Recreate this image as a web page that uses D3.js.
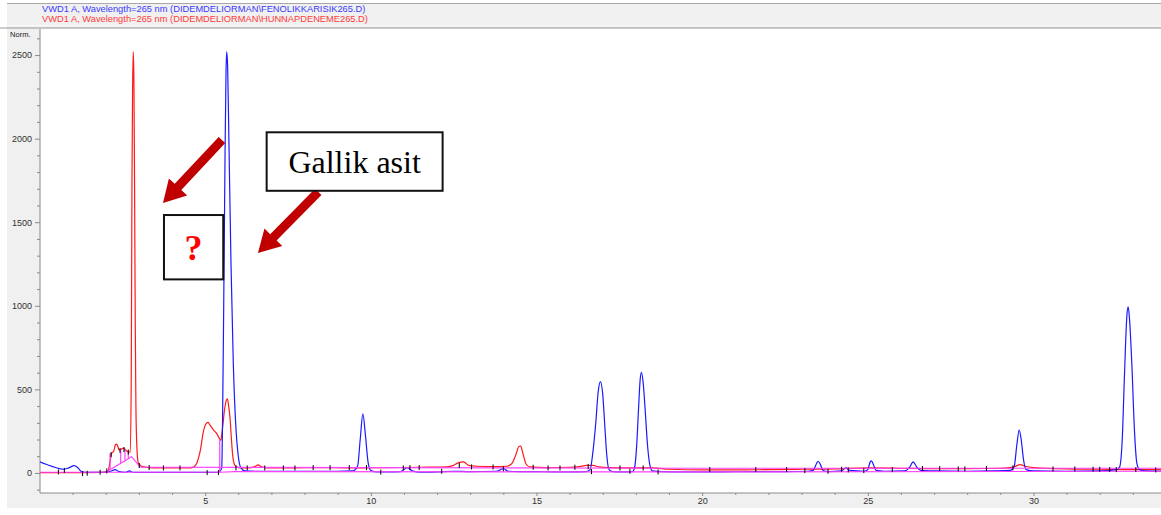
<!DOCTYPE html>
<html>
<head>
<meta charset="utf-8">
<script src="https://cdn.jsdelivr.net/npm/d3@7"></script>
<style>
  html, body { margin: 0; padding: 0; background: #ffffff; }
  svg { display: block; }
</style>
</head>
<body>
<svg id="chart" width="1161" height="515"></svg>
<script>
// HPLC chromatograms, VWD1 A at 265 nm: retention time (min) vs. signal (Norm.)

const headerLines = [
  { text: "VWD1 A, Wavelength=265 nm (DIDEMDELIORMAN\\FENOLIKKARISIK265.D)", color: "#3a3aff" },
  { text: "VWD1 A, Wavelength=265 nm (DIDEMDELIORMAN\\HUNNAPDENEME265.D)", color: "#ff3a3a" }
];

const yAxisTitle = "Norm.";
const yMajorTicks = [0, 500, 1000, 1500, 2000, 2500];
const yMinorTicks = [-100, 100, 200, 300, 400, 600, 700, 800, 900, 1100, 1200, 1300, 1400,
                     1600, 1700, 1800, 1900, 2100, 2200, 2300, 2400, 2600];
const xMajorTicks = [5, 10, 15, 20, 25, 30];
const xMinorTicks = [1, 2, 3, 4, 6, 7, 8, 9, 11, 12, 13, 14, 16, 17, 18, 19, 21, 22, 23, 24,
                     26, 27, 28, 29, 31, 32, 33];

// FENOLIKKARISIK265.D (standard mix), [time, signal]
const blueTrace = [
  [0.0, 68], [0.2, 52], [0.4, 38], [0.6, 26], [0.72, 22], [0.88, 30], [1.05, 44], [1.15, 32],
  [1.27, 8], [1.4, 4], [1.8, 4], [2.0, 4], [2.15, 10], [2.28, 20], [2.4, 8], [2.6, 4],
  [2.72, 12], [2.8, 4], [3.0, 3], [4.0, 3], [5.0, 3], [5.4, 4], [5.5, 30], [5.53, 400],
  [5.56, 1000], [5.6, 1900], [5.63, 2400], [5.65, 2520], [5.68, 2420], [5.72, 1950],
  [5.78, 1250], [5.85, 650], [5.92, 300], [6.0, 100], [6.08, 30], [6.2, 12], [6.5, 10],
  [7.0, 10], [8.0, 10], [9.0, 10], [9.45, 12], [9.6, 40], [9.68, 200], [9.76, 353],
  [9.84, 220], [9.92, 60], [10.0, 15], [10.2, 6], [10.5, 6], [10.9, 8], [11.1, 32],
  [11.25, 12], [11.5, 4], [12.0, 6], [12.5, 10], [13.0, 8], [13.8, 10], [14.0, 25],
  [14.15, 10], [14.5, 8], [15.0, 8], [15.5, 6], [16.0, 6], [16.5, 8], [16.62, 20],
  [16.7, 120], [16.79, 300], [16.86, 480], [16.93, 546], [17.0, 470], [17.06, 290],
  [17.12, 110], [17.19, 20], [17.3, 8], [17.6, 6], [17.9, 8], [17.96, 30], [18.02, 150],
  [18.08, 380], [18.13, 560], [18.17, 602], [18.22, 540], [18.28, 380], [18.35, 170],
  [18.42, 50], [18.5, 12], [18.8, 8], [19.5, 6], [20.5, 6], [21.5, 8], [22.5, 8],
  [23.2, 10], [23.35, 15], [23.45, 55], [23.5, 70], [23.57, 50], [23.65, 15], [23.8, 8],
  [24.2, 12], [24.34, 30], [24.45, 15], [24.9, 10], [25.0, 20], [25.07, 65], [25.11, 72],
  [25.17, 50], [25.25, 15], [25.5, 10], [26.1, 12], [26.25, 30], [26.37, 66], [26.48, 35],
  [26.6, 15], [27.0, 12], [28.0, 10], [28.8, 12], [29.3, 15], [29.42, 40], [29.5, 170],
  [29.57, 257], [29.63, 200], [29.7, 80], [29.78, 20], [30.0, 12], [31.0, 10], [32.0, 12],
  [32.5, 20], [32.6, 35], [32.68, 200], [32.75, 600], [32.82, 940], [32.86, 993],
  [32.9, 920], [32.97, 650], [33.05, 250], [33.12, 60], [33.2, 20], [33.4, 12], [33.85, 10]
];

// HUNNAPDENEME265.D (sample extract), [time, signal]
const redTrace = [
  [0.0, 2], [1.0, 2], [1.9, 3], [2.0, 6], [2.07, 12], [2.13, 70], [2.18, 118], [2.24, 130],
  [2.29, 168], [2.33, 173], [2.37, 155], [2.4, 137], [2.46, 141], [2.53, 148], [2.6, 137],
  [2.68, 127], [2.74, 125], [2.77, 600], [2.79, 1700], [2.81, 2300], [2.83, 2520],
  [2.85, 2350], [2.87, 1700], [2.89, 900], [2.91, 400], [2.94, 150], [2.98, 62], [3.08, 40],
  [3.3, 32], [3.6, 30], [4.0, 30], [4.5, 30], [4.65, 35], [4.75, 60], [4.85, 130],
  [4.95, 250], [5.03, 295], [5.09, 302], [5.15, 285], [5.25, 258], [5.35, 235], [5.42, 210],
  [5.47, 195], [5.52, 260], [5.58, 370], [5.63, 430], [5.67, 443], [5.71, 400], [5.75, 330],
  [5.79, 210], [5.84, 90], [5.9, 45], [6.0, 32], [6.3, 30], [6.5, 38], [6.6, 48], [6.7, 36],
  [6.9, 30], [7.5, 30], [8.5, 32], [9.5, 30], [10.5, 32], [11.5, 34], [12.3, 36], [12.5, 45],
  [12.65, 62], [12.8, 66], [12.95, 45], [13.2, 40], [13.8, 38], [14.1, 40], [14.25, 55],
  [14.38, 110], [14.47, 158], [14.52, 160], [14.6, 110], [14.68, 55], [14.8, 36], [15.3, 32],
  [16.0, 34], [16.3, 38], [16.5, 45], [16.7, 45], [16.9, 36], [17.2, 32], [17.8, 30],
  [18.5, 30], [19.0, 22], [20.0, 18], [21.0, 18], [22.0, 20], [23.0, 22], [24.0, 24],
  [25.0, 30], [26.0, 28], [27.0, 26], [28.0, 26], [29.0, 28], [29.4, 35], [29.6, 50],
  [29.75, 40], [30.0, 32], [31.0, 24], [32.0, 22], [33.0, 20], [33.85, 20]
];

// integration baselines (magenta)
const baselineLow = [[0.0, 4], [5.44, 4], [5.9, 8], [20.0, 6], [33.85, 10]];
const baselineHigh = [[3.0, 34], [10.0, 32], [20.0, 28], [33.85, 28]];
const baselineCluster = [[2.04, 8], [2.78, 97], [3.03, 38]];
// perpendicular drops: [time, from, to]
const baselineDrops = [[2.13, 19, 118], [2.45, 57, 141], [2.58, 73, 144], [2.68, 85, 127], [5.44, 4, 195]];

// integration event markers, [time, signal]
const eventTicks = [
  [0.57, 6], [0.75, 15], [1.3, -4], [1.44, -2], [1.83, 4], [2.03, 12], [2.16, 110], [2.43, 135],
  [2.55, 140], [2.68, 125], [3.01, 45], [3.31, 32], [3.74, 30], [4.24, 30], [5.06, 2], [5.4, 2],
  [5.93, 30], [6.27, 30], [6.8, 30], [7.36, 30], [7.71, 30], [8.26, 32], [8.77, 32], [9.35, 32],
  [9.87, 32], [10.3, 5], [10.98, 30], [11.18, 32], [11.46, 32], [12.14, 10], [12.67, 45],
  [13.04, 36], [13.69, 36], [14.0, 25], [14.9, 34], [15.35, 30], [15.71, 30], [16.16, 34],
  [16.56, 38], [16.66, 8], [17.52, 30], [17.82, 10], [18.22, 30], [18.67, 6], [20.23, 20],
  [21.62, 20], [22.55, 20], [23.1, 14], [23.8, 10], [24.21, 22], [24.41, 18], [24.88, 14],
  [25.74, 20], [26.65, 26], [27.17, 26], [27.73, 24], [27.93, 24], [28.58, 26], [29.38, 30],
  [30.59, 24], [31.25, 24], [31.8, 22], [32.0, 22], [32.3, 20], [32.5, 20], [33.09, 20], [33.69, 18]
];

// annotations in data units
const labelBoxes = [
  { text: "Gallik asit", t0: 6.856, t1: 12.167, v0: 1688, v1: 2038, color: "#000000", weight: "normal", size: 32 },
  { text: "?", t0: 3.757, t1: 5.546, v0: 1158, v1: 1543, color: "#ff0000", weight: "bold", size: 36 }
];
const arrows = [
  { from: [5.507, 1992], to: [3.727, 1615] },
  { from: [8.413, 1682], to: [6.593, 1316] }
];

const svg = d3.select("#chart");
const W = 1161, H = 515;
const plot = { left: 40, right: 1161, top: 29, bottom: 493 };

const x = d3.scaleLinear().domain([0, 33.85]).range([39.5, 1161]);
const y = d3.scaleLinear().domain([-120, 2650]).range([plot.bottom, 30]);

// window frame
svg.append("rect").attr("width", W).attr("height", H).attr("fill", "#ffffff");
svg.append("rect").attr("x", 7).attr("y", 3).attr("width", W - 7).attr("height", 505).attr("fill", "#f0f0f0");
svg.append("line").attr("x1", 7).attr("x2", W).attr("y1", 3.5).attr("y2", 3.5).attr("stroke", "#a8a8a8");
svg.append("line").attr("x1", 7).attr("x2", W).attr("y1", 25.5).attr("y2", 25.5).attr("stroke", "#fafafa");
svg.append("line").attr("x1", 0).attr("x2", W).attr("y1", 28).attr("y2", 28).attr("stroke", "#9a9a9a");
svg.append("rect").attr("x", plot.left).attr("y", plot.top).attr("width", plot.right - plot.left)
  .attr("height", plot.bottom - plot.top).attr("fill", "#ffffff");

// header
svg.selectAll("text.hdr").data(headerLines).join("text")
  .attr("class", "hdr")
  .attr("x", 42).attr("y", (d, i) => 12 + i * 9.5)
  .attr("fill", d => d.color)
  .attr("font-family", "Liberation Sans, Arial, sans-serif")
  .attr("font-size", 9.3)
  .text(d => d.text);

const tickFont = "Liberation Sans, Arial, sans-serif";

// y axis
const yAxisMajor = d3.axisLeft(y).tickValues(yMajorTicks).tickSize(5).tickPadding(3).tickFormat(d3.format("d"));
const yAxisMinor = d3.axisLeft(y).tickValues(yMinorTicks).tickSize(3).tickFormat("");
const gy = svg.append("g").attr("transform", `translate(${plot.left},0)`).call(yAxisMajor);
svg.append("g").attr("transform", `translate(${plot.left},0)`).call(yAxisMinor).select(".domain").remove();
gy.select(".domain").attr("d", `M0,${plot.top}V${plot.bottom}`);
gy.selectAll("text").attr("font-family", tickFont).attr("font-size", 9).attr("fill", "#303030");

svg.append("text").attr("x", 10).attr("y", 36.5)
  .attr("font-family", tickFont).attr("font-size", 7.6).attr("fill", "#202020")
  .text(yAxisTitle);

// x axis
const xAxisMajor = d3.axisBottom(x).tickValues(xMajorTicks).tickSize(3).tickPadding(2).tickFormat(d3.format("d"));
const xAxisMinor = d3.axisBottom(x).tickValues(xMinorTicks).tickSize(2).tickFormat("");
const gx = svg.append("g").attr("transform", `translate(0,${plot.bottom})`).call(xAxisMajor);
svg.append("g").attr("transform", `translate(0,${plot.bottom})`).call(xAxisMinor).select(".domain").remove();
gx.select(".domain").attr("d", `M${plot.left},0H${plot.right}`);
gx.selectAll("text").attr("font-family", tickFont).attr("font-size", 9).attr("fill", "#303030");
svg.selectAll(".domain").attr("stroke", "#8a8a8a");
svg.selectAll(".tick line").attr("stroke", "#8a8a8a");

// traces
const clip = svg.append("clipPath").attr("id", "plotclip").append("rect")
  .attr("x", plot.left).attr("y", plot.top).attr("width", plot.right - plot.left).attr("height", plot.bottom - plot.top);
const layer = svg.append("g").attr("clip-path", "url(#plotclip)");

const traceLine = d3.line().x(d => x(d[0])).y(d => y(d[1])).curve(d3.curveMonotoneX);
const straight = d3.line().x(d => x(d[0])).y(d => y(d[1]));

layer.append("path").datum(redTrace).attr("d", traceLine)
  .attr("fill", "none").attr("stroke", "#ff1a1a").attr("stroke-width", 1.2);
layer.append("path").datum(blueTrace).attr("d", traceLine)
  .attr("fill", "none").attr("stroke", "#1a1aff").attr("stroke-width", 1.2);

[baselineLow, baselineHigh, baselineCluster].forEach(b => {
  layer.append("path").datum(b).attr("d", straight)
    .attr("fill", "none").attr("stroke", "#ff40ff").attr("stroke-width", 1.2);
});
layer.selectAll("line.drop").data(baselineDrops).join("line")
  .attr("class", "drop")
  .attr("x1", d => x(d[0])).attr("x2", d => x(d[0]))
  .attr("y1", d => y(d[1])).attr("y2", d => y(d[2]))
  .attr("stroke", "#ff40ff").attr("stroke-width", 1.2);

layer.selectAll("line.evt").data(eventTicks).join("line")
  .attr("class", "evt")
  .attr("x1", d => x(d[0])).attr("x2", d => x(d[0]))
  .attr("y1", d => y(d[1]) - 2.5).attr("y2", d => y(d[1]) + 2.5)
  .attr("stroke", "#000000").attr("stroke-width", 1);

// annotation arrows
const arrowColor = "#c00000";
arrows.forEach(a => {
  const x0 = x(a.from[0]), y0 = y(a.from[1]), x1 = x(a.to[0]), y1 = y(a.to[1]);
  const len = Math.hypot(x1 - x0, y1 - y0);
  const ux = (x1 - x0) / len, uy = (y1 - y0) / len;
  const nx = -uy, ny = ux;
  const shaft = 4.5, head = 12.5, headLen = 22;
  const bx = x1 - ux * headLen, by = y1 - uy * headLen;
  const pts = [
    [x0 + nx * shaft, y0 + ny * shaft],
    [bx + nx * shaft, by + ny * shaft],
    [bx + nx * head, by + ny * head],
    [x1, y1],
    [bx - nx * head, by - ny * head],
    [bx - nx * shaft, by - ny * shaft],
    [x0 - nx * shaft, y0 - ny * shaft]
  ];
  svg.append("polygon").attr("points", pts.map(p => p.join(",")).join(" ")).attr("fill", arrowColor);
});

// annotation boxes
labelBoxes.forEach(b => {
  const bx0 = x(b.t0), bx1 = x(b.t1), by0 = y(b.v1), by1 = y(b.v0);
  svg.append("rect").attr("x", bx0).attr("y", by0).attr("width", bx1 - bx0).attr("height", by1 - by0)
    .attr("fill", "#ffffff").attr("stroke", "#111111").attr("stroke-width", 2);
  svg.append("text")
    .attr("x", (bx0 + bx1) / 2).attr("y", (by0 + by1) / 2)
    .attr("dy", "0.35em")
    .attr("text-anchor", "middle")
    .attr("font-family", "Liberation Serif, Times New Roman, serif")
    .attr("font-size", b.size).attr("font-weight", b.weight).attr("fill", b.color)
    .text(b.text);
});
</script>
</body>
</html>
